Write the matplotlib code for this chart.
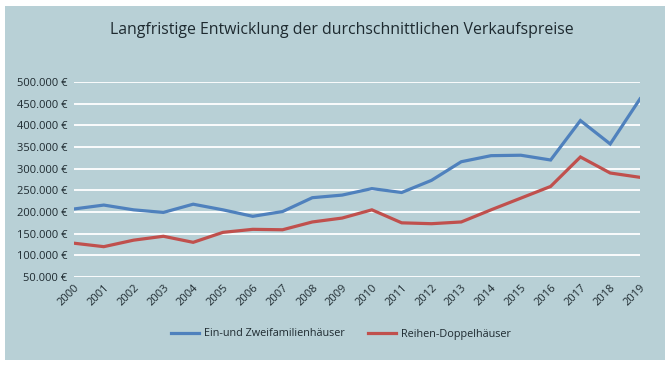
import numpy as np
import matplotlib.pyplot as plt
from matplotlib.patches import Rectangle
from matplotlib.ticker import FuncFormatter

# data
years = list(range(2000, 2020))
efh = [207000, 216000, 205000, 199000, 218000, 205000, 190000, 201000, 233000, 239000,
       254000, 245000, 273000, 316000, 330000, 331000, 320000, 411000, 357000, 461000]
rdh = [128000, 120000, 135000, 144000, 130000, 153000, 160000, 159000, 177000, 186000,
       205000, 175000, 173000, 177000, 205000, 232000, 259000, 327000, 290000, 280000]
yticks = list(range(50000, 500001, 50000))

bg = '#b8d0d6'
txt = '#1e2a30'
plt.rcParams['font.family'] = ['Open Sans', 'DejaVu Sans']

fig = plt.figure(figsize=(6.72, 3.67), dpi=100)
fig.patch.set_facecolor('white')
fig.add_artist(Rectangle((5 / 672, 1 - 360 / 367), 660 / 672, 354 / 367,
                         transform=fig.transFigure, facecolor=bg, edgecolor='none', zorder=0))

ax = fig.add_axes([74 / 672, 1 - 277 / 367, 566 / 672, 195 / 367])
ax.set_facecolor('none')
ax.plot(years, efh, color='#4f81bd', lw=2.3, label='Ein-und Zweifamilienhäuser', solid_joinstyle='miter')
ax.plot(years, rdh, color='#c0504d', lw=2.3, label='Reihen-Doppelhäuser', solid_joinstyle='miter')

ax.set_xlim(2000, 2019)
ax.set_ylim(50000, 500000)
ax.set_yticks(yticks)
ax.yaxis.set_major_formatter(FuncFormatter(lambda v, p: f'{int(v):,} €'.replace(',', '.')))
ax.set_xticks(years)
ax.set_xticklabels([str(y) for y in years], rotation=45, ha='right', va='top',
                   rotation_mode='anchor')
ax.grid(axis='y', color='white', lw=1.3)
ax.set_axisbelow(True)
for s in ax.spines.values():
    s.set_visible(False)
ax.tick_params(length=0, colors=txt, labelsize=8)
ax.tick_params(axis='x', pad=4)
ax.tick_params(axis='y', pad=5)

fig.text(342 / 672, 1 - 30 / 367, 'Langfristige Entwicklung der durchschnittlichen Verkaufspreise',
         ha='center', va='center', fontsize=11.4, color=txt)
fig.legend(loc='center', bbox_to_anchor=(341 / 672, 1 - 334 / 367), ncol=2, frameon=False,
           fontsize=7.8, labelcolor=txt, handlelength=2.6, handletextpad=0.45, columnspacing=2.1)

fig.savefig('out.png', dpi=100, facecolor='white')
